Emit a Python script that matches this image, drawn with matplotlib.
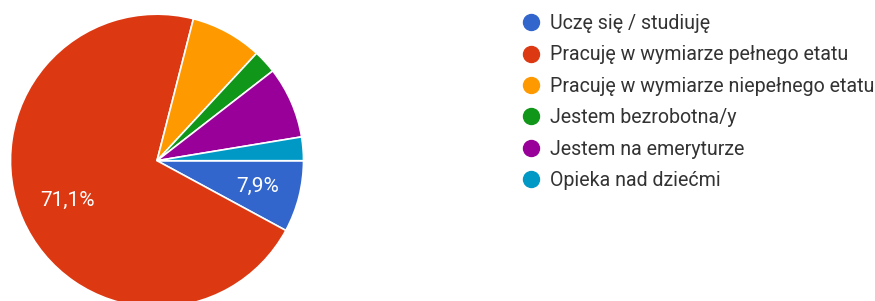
import matplotlib
matplotlib.use("Agg")
import matplotlib.pyplot as plt
from matplotlib.lines import Line2D
import numpy as np

plt.rcParams['font.family'] = ['Roboto', 'DejaVu Sans']

categories = ["Uczę się / studiuję",
              "Pracuję w wymiarze pełnego etatu",
              "Pracuję w wymiarze niepełnego etatu",
              "Jestem bezrobotna/y",
              "Jestem na emeryturze",
              "Opieka nad dziećmi"]
values = [7.9, 71.1, 7.9, 2.6, 7.9, 2.6]
shown_labels = ["7,9%", "71,1%", None, None, None, None]
colors = ["#3366cc", "#dc3912", "#ff9900", "#109618", "#990099", "#0099c6"]

W, H = 875, 301
fig = plt.figure(figsize=(W / 100, H / 100), dpi=100)

cx, cy, r = 157, 160.7, 146.5
ax = fig.add_axes([(cx - r) / W, (H - cy - r) / H, 2 * r / W, 2 * r / H])
wedges, _ = ax.pie(values, colors=colors, startangle=0, counterclock=False,
                   wedgeprops=dict(edgecolor='white', linewidth=1.2), radius=1)
ax.set_xlim(-1, 1)
ax.set_ylim(-1, 1)
ax.set_aspect('equal')
ax.axis('off')

dist = [0.71, 0.67, 0.7, 0.7, 0.7, 0.7]
for w, lab, d in zip(wedges, shown_labels, dist):
    if lab is None:
        continue
    ang = np.deg2rad((w.theta1 + w.theta2) / 2)
    ax.text(d * np.cos(ang), d * np.sin(ang), lab, color='white',
            fontsize=15, ha='center', va='center')

handles = [Line2D([0], [0], marker='o', linestyle='none', markersize=11.5,
                  markerfacecolor=c, markeredgecolor=c) for c in colors]
leg = fig.legend(handles, categories, loc='upper left',
                 bbox_to_anchor=(521 / W, 1 - 14 / H), frameon=False,
                 fontsize=14.1, handlelength=1.0, handletextpad=0.47,
                 labelspacing=0.635, borderpad=0, borderaxespad=0)
for t in leg.get_texts():
    t.set_color('#333333')

fig.savefig('out.png', dpi=100, facecolor='white')
